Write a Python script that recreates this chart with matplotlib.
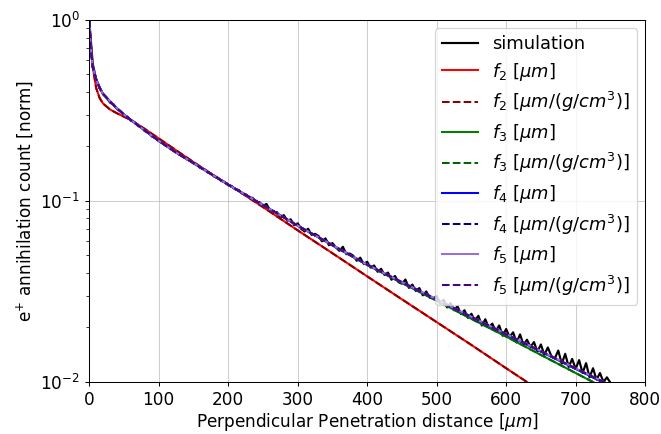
"""Positron annihilation depth profile: simulation vs. multi-exponential fits."""
import numpy as np
import matplotlib
matplotlib.use("Agg")
import matplotlib.pyplot as plt

# simulated profile, 5 um bins
sim_x = np.arange(0, 755, 5)
sim_y = [
    1.0, 0.575, 0.468, 0.425, 0.388, 0.372, 0.349, 0.341, 0.322, 0.313,
    0.297, 0.292, 0.277, 0.273, 0.260, 0.256, 0.243, 0.240, 0.227, 0.224,
    0.214, 0.210, 0.202, 0.199, 0.191, 0.188, 0.180, 0.177, 0.170, 0.168,
    0.161, 0.158, 0.152, 0.150, 0.144, 0.142, 0.136, 0.134, 0.129, 0.127,
    0.122, 0.121, 0.116, 0.115, 0.110, 0.109, 0.1045, 0.104, 0.0985, 0.0985,
    0.094, 0.0962, 0.0893, 0.0871, 0.0868, 0.0812, 0.0835, 0.0778, 0.0791, 0.0735,
    0.0752, 0.0701, 0.0678, 0.0702, 0.0649, 0.0658, 0.0640, 0.0598, 0.0621, 0.0569,
    0.0585, 0.0553, 0.0530, 0.0558, 0.0508, 0.0512, 0.0498, 0.0467, 0.0486, 0.0449,
    0.0461, 0.0428, 0.0440, 0.0406, 0.0422, 0.0390, 0.0402, 0.0367, 0.0385, 0.0356,
    0.0349, 0.0368, 0.0331, 0.0345, 0.0318, 0.0330, 0.0301, 0.0316, 0.0292, 0.0289,
    0.0298, 0.0270, 0.0284, 0.0258, 0.0272, 0.0249, 0.0262, 0.0237, 0.0249, 0.0226,
    0.0238, 0.0218, 0.0232, 0.0205, 0.0222, 0.0199, 0.0210, 0.0191, 0.0205, 0.0180,
    0.0196, 0.0177, 0.0188, 0.0165, 0.0183, 0.0160, 0.0171, 0.0156, 0.0166, 0.0147,
    0.0161, 0.0141, 0.0155, 0.0139, 0.0135, 0.0149, 0.0126, 0.0143, 0.0121, 0.0134,
    0.0118, 0.0132, 0.0112, 0.0127, 0.0106, 0.0119, 0.0103, 0.0112, 0.0100, 0.0106,
    0.0099,
]

# fitted curves, sampled at fit_x
fit_x = [0, 2, 5, 10, 15, 20, 30, 40, 50, 60, 80, 100, 125, 150, 175, 200,
         250, 300, 350, 400, 450, 500, 550, 600, 650, 700, 750, 800]
f2 = [1.0, 0.76, 0.55, 0.42, 0.37, 0.345, 0.32, 0.305, 0.292, 0.28, 0.25, 0.2215,
      0.1905, 0.164, 0.1418, 0.1235, 0.0925, 0.0688, 0.0514, 0.0383, 0.0286,
      0.0214, 0.0160, 0.0119, 0.00888, 0.00664, 0.00496, 0.0037]
f3 = [1.0, 0.72, 0.55, 0.47, 0.42, 0.39, 0.355, 0.325, 0.30, 0.28, 0.245, 0.215,
      0.185, 0.162, 0.141, 0.123, 0.095, 0.073, 0.0568, 0.0443, 0.0352, 0.0281,
      0.0223, 0.0178, 0.0141, 0.0112, 0.0089, 0.0071]
f4 = [1.0, 0.72, 0.55, 0.47, 0.42, 0.39, 0.355, 0.325, 0.30, 0.28, 0.245, 0.215,
      0.185, 0.162, 0.141, 0.123, 0.095, 0.073, 0.057, 0.0445, 0.0355, 0.0285,
      0.0228, 0.0183, 0.0147, 0.0118, 0.0095, 0.0076]
f5 = [1.0, 0.72, 0.55, 0.47, 0.42, 0.39, 0.355, 0.325, 0.30, 0.28, 0.245, 0.215,
      0.185, 0.162, 0.141, 0.123, 0.095, 0.073, 0.057, 0.0445, 0.0356, 0.0286,
      0.0229, 0.0184, 0.0148, 0.0119, 0.0096, 0.0077]

plt.rcParams["font.size"] = 13.2
fig = plt.figure(figsize=(661 / 92, 434 / 92), dpi=92)
ax = fig.add_axes([0.135, 0.12, 0.841, 0.834])

ax.plot(sim_x, sim_y, color="black", lw=1.7, label="simulation")
ax.plot(fit_x, f2, color="red", lw=1.6, label=r"$f_2$ [$\mu m$]")
ax.plot(fit_x, f2, color="darkred", lw=1.6, ls="--", label=r"$f_2$ [$\mu m/(g/cm^3)$]")
ax.plot(fit_x, f3, color="green", lw=1.6, label=r"$f_3$ [$\mu m$]")
ax.plot(fit_x, f3, color="darkgreen", lw=1.6, ls="--", label=r"$f_3$ [$\mu m/(g/cm^3)$]")
ax.plot(fit_x, f4, color="blue", lw=1.6, label=r"$f_4$ [$\mu m$]")
ax.plot(fit_x, f4, color="navy", lw=1.6, ls="--", label=r"$f_4$ [$\mu m/(g/cm^3)$]")
ax.plot(fit_x, f5, color="mediumpurple", lw=1.6, label=r"$f_5$ [$\mu m$]")
ax.plot(fit_x, f5, color="indigo", lw=1.6, ls="--", label=r"$f_5$ [$\mu m/(g/cm^3)$]")

ax.set_yscale("log")
ax.set_xlim(0, 800)
ax.set_ylim(1e-2, 1)
ax.set_xlabel(r"Perpendicular Penetration distance [$\mu m$]", labelpad=1.5)
ax.set_ylabel(r"e$^{+}$ annihilation count [norm]")
ax.grid(True, alpha=0.6)
ax.legend(loc="upper right", fontsize=14, labelspacing=0.42, borderaxespad=0.45)

plt.savefig("out.png", dpi=92)
